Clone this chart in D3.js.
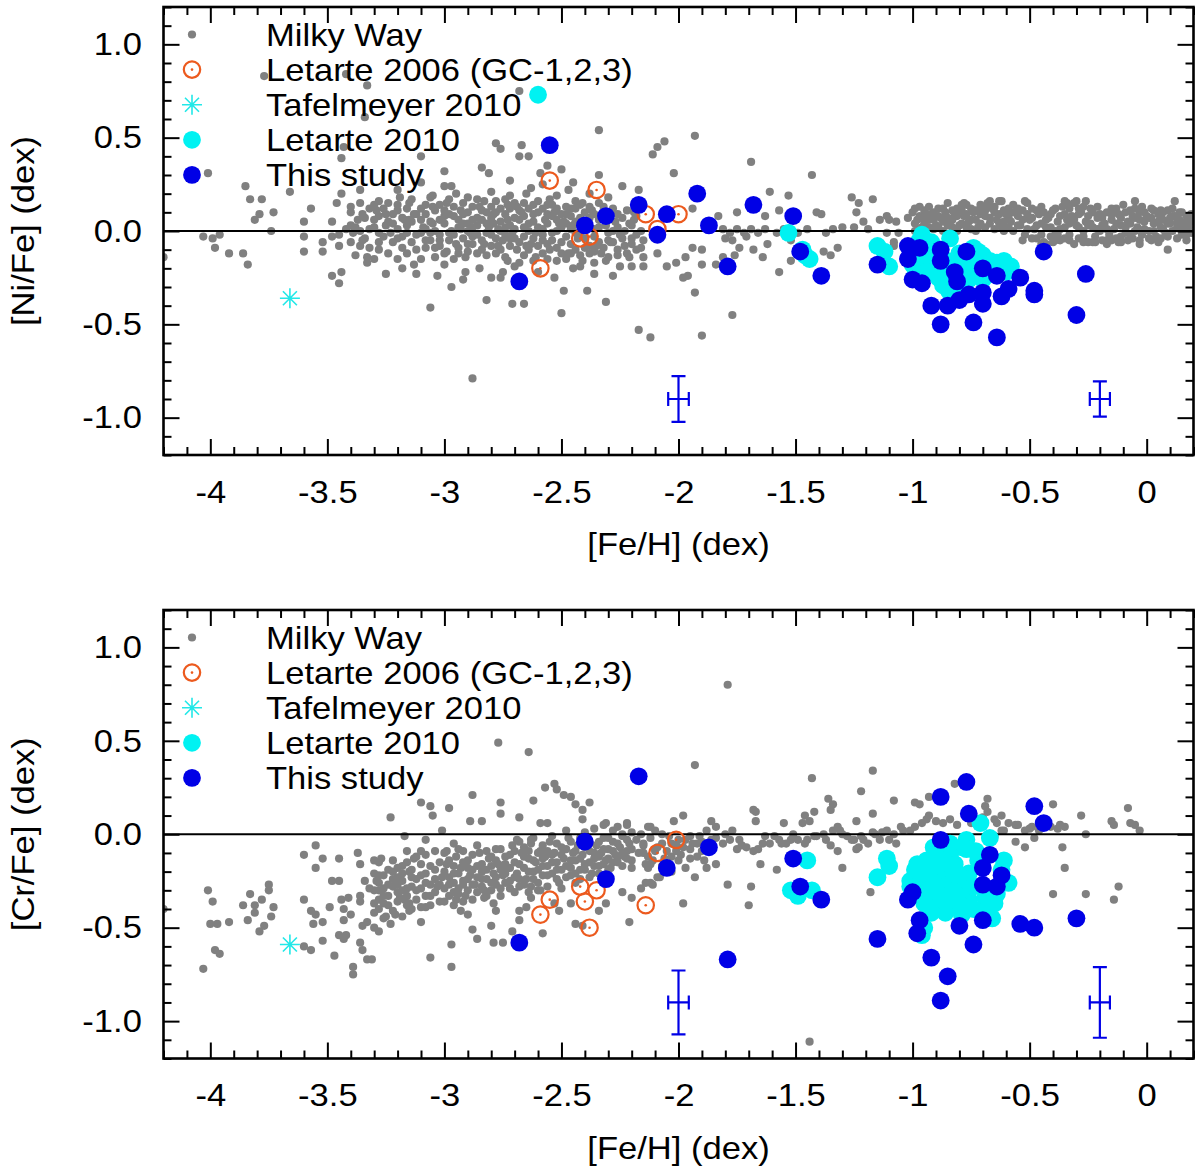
<!DOCTYPE html>
<html><head><meta charset="utf-8">
<script src="https://cdn.jsdelivr.net/npm/d3@7"></script>
<style>body{margin:0;background:#fff}svg{display:block}</style>
</head><body>
<svg id="chart" width="1200" height="1168"></svg>
<script>
// ---------------- DATA ----------------
const xMajorTicks = [-4, -3.5, -3, -2.5, -2, -1.5, -1, -0.5, 0];
const xTickLabels = ["-4", "-3.5", "-3", "-2.5", "-2", "-1.5", "-1", "-0.5", "0"];
const yMajorTicks = [-1, -0.5, 0, 0.5, 1];
const yTickLabels = ["-1.0", "-0.5", "0.0", "0.5", "1.0"];
const legendLabels = ["Milky Way", "Letarte 2006 (GC-1,2,3)", "Tafelmeyer 2010", "Letarte 2010", "This study"];
const xTitle = "[Fe/H] (dex)";
const yTitles = ["[Ni/Fe] (dex)", "[Cr/Fe] (dex)"];

// Milky Way [Fe/H], [Ni/Fe]
const mwNi = [
[-4.20,-0.14],[-4.03,-0.03],[-3.99,-0.04],[-3.96,-0.02],[-3.98,-0.09],[-3.92,-0.12],[-3.86,-0.12],[-3.84,-0.18],[-4.01,0.31],[-3.85,0.24],[-3.83,0.17],[-3.78,0.17],[-3.81,0.06],[-3.79,0.09],[-3.73,0.10],[-3.74,0.00],[-3.66,0.21],[-3.77,0.83],
[-3.60,0.05],[-3.60,-0.03],[-3.60,-0.11],[-3.57,0.12],[-3.52,-0.06],[-3.52,-0.11],[-3.48,0.05],[-3.48,-0.03],[-3.45,-0.08],[-3.46,0.15],[-3.44,0.20],[-3.43,0.45],[-3.44,0.39],[-3.42,0.84],[-3.48,-0.24],[-3.45,-0.28],[-3.44,-0.22],[-3.42,0.01],[-3.40,0.10],[-3.39,-0.01],[-3.37,0.06],[-3.36,0.22],[-3.36,-0.08],[-3.35,0.09],[-3.33,0.78],[-3.34,0.61],[-3.33,-0.14],[-3.33,-0.17],[-3.32,0.01],[-3.30,0.06],[-3.29,0.11],[-3.28,-0.10],[-3.28,-0.01],[-3.25,-0.23],[-3.25,0.09],[-3.23,-0.01],[-3.22,0.04],[-3.20,0.11],[-3.19,0.18],[-3.17,0.06],[-3.16,-0.01],[-3.15,0.15],[-3.13,0.09],[-3.13,-0.18],[-3.12,-0.23],[-3.10,0.40],[-3.10,0.26],[-3.09,0.02],[-3.08,0.09],[-3.06,-0.01],[-3.06,-0.41],[-3.05,0.13],[-3.04,-0.09],[-3.03,-0.24],[-3.02,0.06],[-3.00,0.32],[-3.00,0.24],[-2.99,0.15],[-2.98,-0.01],[-2.97,-0.30],[-2.96,0.08],[-2.95,0.20],[-2.94,-0.12],[-2.93,0.01],[-2.92,0.09],[-2.91,-0.22],[-2.90,-0.07],[-2.89,-0.01],[-2.88,-0.79],[-2.88,0.06],[-2.86,-0.12],[-2.85,0.13],[-2.84,0.34],[-2.83,-0.07],[-2.82,-0.37],[-2.81,0.02],[-2.81,0.31],[-2.80,-0.25],[-2.79,0.09],[-2.78,0.47],[-2.78,-0.12],[-2.77,0.01],[-2.76,-0.25],[-2.76,0.44],[-2.75,-0.05],[-2.74,0.17],[-2.73,-0.16],[-2.73,0.06],[-2.72,0.27],[-2.71,-0.01],[-2.71,-0.39],[-2.70,-0.19],[-2.69,0.13],[-2.68,0.40],[-2.68,0.75],[-2.67,0.46],[-2.66,0.02],[-2.66,-0.39],[-2.65,-0.08],[-2.64,0.40],[-2.63,0.23],[-2.62,0.09],[-2.61,-0.01],[-2.59,0.31],[-2.58,-0.12],[-2.56,0.09],[-2.56,0.35],[-2.55,0.17],[-2.54,-0.05],[-2.52,-0.16],[-2.51,0.04],[-2.50,0.33],[-2.50,-0.44],[-2.49,-0.32],[-2.48,0.09],[-2.47,0.22],[-2.46,-0.12],[-2.44,-0.01],[-2.44,0.16],[-2.42,-0.19],[-2.41,-0.16],[-2.39,-0.32],[-2.38,-0.12],[-2.36,-0.23],[-2.35,-0.08],[-2.34,0.30],[-2.34,0.54],[-2.31,-0.16],[-2.31,-0.38],[-2.30,-0.05],[-2.28,0.00],[-2.26,0.09],[-2.25,-0.19],[-2.24,0.24],[-2.23,0.00],[-2.21,-0.14],[-2.20,-0.19],[-2.19,0.06],[-2.17,0.22],[-2.17,-0.53],[-2.15,-0.05],[-2.12,-0.57],[-2.11,0.41],[-2.09,-0.12],[-2.09,0.45],
[-3.25,0.03],[-3.20,-0.04],[-3.15,0.06],[-3.12,-0.02],[-3.10,0.12],[-3.05,0.04],[-3.02,-0.05],[-3.00,0.08],[-2.97,0.00],[-2.95,-0.07],[-2.93,0.11],[-2.90,0.04],[-2.88,-0.03],[-2.86,0.07],[-2.84,-0.10],[-2.82,0.10],[-2.80,-0.02],[-2.79,0.04],[-2.77,-0.08],[-2.76,0.12],[-2.74,0.02],[-2.72,-0.04],[-2.70,0.07],[-2.69,-0.10],[-2.67,0.10],[-2.66,-0.03],[-2.64,0.04],[-2.63,-0.07],[-2.62,0.14],[-2.60,0.02],[-2.58,-0.05],[-2.57,0.06],[-2.55,-0.10],[-2.53,0.10],[-2.52,0.00],[-2.50,-0.06],[-2.49,0.05],[-2.47,-0.12],[-2.46,0.12],[-2.45,0.03],[-2.43,-0.04],[-2.42,0.07],[-2.40,-0.09],[-2.39,0.02],[-2.37,0.11],[-2.36,-0.03],[-2.34,0.06],[-2.33,-0.12],[-2.31,0.03],[-2.29,-0.06],[-2.27,0.05],[-2.25,-0.02],[-2.23,-0.08],[-2.21,0.04],[-2.20,-0.04],[-2.18,-0.10],[-2.16,0.00],[-3.35,-0.05],[-3.40,0.03],[-3.45,-0.02],[-3.30,0.14],[-3.28,-0.06],[-3.18,-0.09],[-3.08,-0.05],[-2.99,-0.11],[-2.91,-0.14],[-2.83,0.16],[-2.73,0.14],[-2.61,-0.14],[-2.56,0.14],[-2.48,-0.15],[-2.41,0.15],[-2.32,0.13],[-2.26,-0.13],[-2.19,0.10],
[-3.20,0.22],[-3.05,0.19],[-2.97,0.24],[-2.90,0.18],[-2.80,0.21],[-2.72,0.19],[-2.65,0.20],[-2.58,0.25],[-2.52,0.19],[-2.45,0.26],[-2.38,0.20],[-2.30,0.18],[-3.18,-0.20],[-3.00,-0.18],[-2.92,-0.26],[-2.85,-0.20],[-2.75,-0.22],[-2.68,-0.17],[-2.60,-0.22],[-2.53,-0.25],[-2.45,-0.20],[-2.36,-0.17],[-2.28,-0.24],
[-2.06,0.48],[-1.93,0.51],[-2.02,0.31],[-1.69,0.37],[-1.43,0.30],[-1.61,0.21],[-1.53,0.19],[-1.94,0.12],[-1.83,0.08],[-1.75,0.10],[-1.63,0.08],[-1.57,0.11],[-1.41,0.10],[-1.39,0.09],[-1.26,0.18],[-1.24,0.10],[-1.23,0.15],[-1.17,0.17],[-1.30,0.02],[-1.81,0.01],[-1.78,-0.01],[-1.75,0.01],[-1.72,-0.01],[-1.69,0.01],[-1.66,-0.01],[-1.63,0.01],[-1.80,-0.04],[-1.77,-0.05],[-1.71,-0.03],[-1.74,-0.09],[-1.68,-0.10],[-1.62,-0.07],[-2.15,-0.14],[-2.15,-0.19],[-2.05,-0.19],[-2.01,-0.17],[-1.97,-0.14],[-1.94,-0.09],[-1.90,-0.10],[-1.90,-0.18],[-1.84,-0.18],[-1.81,-0.14],[-1.76,-0.13],[-1.64,-0.14],[-1.96,-0.24],[-1.98,-0.25],[-1.93,-0.33],[-1.77,-0.45],[-1.90,-0.56],[-1.57,-0.22],[-1.52,-0.16],[-1.46,-0.15],[-1.38,-0.11],[-1.35,-0.13],[-1.32,-0.09],[-1.25,0.02],[-1.21,0.05],[-1.19,0.01],[-1.14,0.06],[-1.11,0.08],[-1.10,0.06],[-1.07,0.05],[-1.06,-0.01],[-1.11,-0.01],[-1.08,-0.06],[-1.08,-0.08],[-1.58,-0.01],[-1.55,0.01],[-1.52,-0.05],[-1.49,-0.01],[-1.45,0.01],[-1.37,-0.01],[-1.34,0.01],
[-1.02,0.07],[-1.00,0.10],[-0.99,0.04],[-0.97,0.08],[-0.96,0.02],[-0.95,0.11],[-0.93,0.06],[-0.92,0.09],[-0.90,0.03],[-0.89,0.12],[-0.88,0.07],[-0.86,0.10],[-0.85,0.15],[-0.84,0.05],[-0.82,0.09],[-0.81,0.12],[-0.80,0.03],[-0.78,0.08],[-0.77,0.14],[-0.76,0.05],[-0.74,0.10],[-0.73,0.06],[-0.72,0.02],[-0.70,0.12],[-0.69,0.08],[-0.68,0.15],[-0.67,0.04],[-0.65,0.10],[-0.64,0.06],[-0.63,0.16],[-0.62,0.02],[-0.60,0.09],[-0.59,0.12],[-0.58,0.05],[-0.57,0.00],[-0.55,0.08],[-0.54,0.03],[-0.53,0.11],[-0.52,-0.02],[-0.51,0.15],[-0.50,0.06],[-0.48,0.01],[-0.47,-0.04],[-0.46,0.09],[-0.45,0.04],[-0.44,-0.06],[-0.43,0.02],[-0.42,0.07],[-0.41,-0.03],[-0.40,0.11],[-0.39,0.00],[-0.38,0.05],[-0.37,-0.05],[-0.36,0.13],[-0.35,0.02],[-0.34,0.15],[-0.33,-0.02],[-0.32,0.08],[-0.31,0.15],[-0.30,0.03],[-0.29,-0.04],[-0.28,0.10],[-0.27,0.00],[-0.26,0.05],[-0.25,-0.06],[-0.24,0.12],[-0.23,0.02],[-0.22,-0.03],[-0.21,0.07],[-0.20,0.00],[-0.19,-0.05],[-0.18,0.04],[-0.17,0.10],[-0.16,-0.02],[-0.15,0.06],[-0.14,0.01],[-0.13,-0.04],[-0.12,0.09],[-0.11,0.03],[-0.10,0.14],[-0.09,-0.01],[-0.08,0.05],[-0.07,0.11],[-0.06,-0.04],[-0.05,0.07],[-0.04,0.02],[-0.03,0.10],[-0.02,-0.02],[-0.01,0.05],[0.00,0.08],[0.01,0.00],[0.02,0.12],[0.03,0.04],[0.04,-0.03],[0.05,0.09],[0.06,0.02],[0.07,0.06],[0.08,-0.01],[0.09,0.11],[0.10,0.04],[0.11,0.00],[0.12,0.08],[0.13,0.02],[0.14,0.06],[0.15,-0.02],[0.16,0.04],[0.17,0.08],[0.18,0.02],[0.19,0.05],
[-0.98,0.06],[-0.94,0.09],[-0.91,0.01],[-0.87,0.05],[-0.83,0.02],[-0.79,0.11],[-0.75,0.01],[-0.71,0.09],[-0.66,0.12],[-0.61,0.05],[-0.56,0.10],[-0.49,0.12],[-0.44,0.10],[-0.38,-0.02],[-0.34,0.06],[-0.29,0.12],[-0.24,0.04],[-0.20,0.09],[-0.15,0.12],[-0.11,-0.03],[-0.06,0.08],[-0.02,0.13],[0.02,0.07],[0.06,0.11],[0.10,0.07],[0.14,0.10],[0.17,0.00],
[-0.45,-0.07],[-0.40,-0.06],[-0.33,-0.05],[-0.27,-0.06],[-0.22,-0.06],[-0.17,-0.05],[-0.12,-0.06],[-0.08,-0.05],[-0.03,-0.05],[0.02,-0.05],[0.06,-0.04],[0.09,-0.10],[0.17,-0.05],
[-0.78,0.15],[-0.67,0.16],[-0.62,0.16],[-0.52,0.16],[-0.35,0.16],[-0.30,0.16],[-0.26,0.16],[-0.05,0.16],[0.12,0.16]
];
// extra Milky Way [Ni/Fe] stars in the crowded metal-poor clump
const mwNiClump = [
[-3.40,0.13],[-3.40,-0.06],[-3.38,0.02],[-3.38,-0.13],[-3.36,0.15],[-3.36,0.00],[-3.34,-0.04],[-3.34,0.07],[-3.32,0.12],[-3.32,-0.09],[-3.30,0.02],[-3.30,-0.15],[-3.28,0.08],[-3.28,0.16],[-3.26,-0.03],[-3.26,0.12],[-3.24,0.05],[-3.24,-0.12],[-3.24,0.15],[-3.22,-0.06],[-3.22,0.09],[-3.20,0.01],[-3.20,-0.15],[-3.20,0.14],[-3.18,0.07],[-3.18,-0.03],[-3.16,0.12],[-3.16,-0.12],[-3.16,0.03],[-3.14,-0.06],[-3.14,0.05],[-3.14,0.17],[-3.12,0.09],[-3.12,-0.10],[-3.10,-0.01],[-3.10,0.06],[-3.10,-0.15],[-3.08,0.14],[-3.08,0.01],[-3.08,-0.09],[-3.06,0.05],[-3.06,-0.05],[-3.06,0.18],[-3.04,0.11],[-3.04,0.00],[-3.04,-0.14],[-3.02,-0.02],[-3.02,0.14],[-3.02,-0.08],[-3.00,0.04],[-3.00,-0.12],[-3.00,0.11],[-2.98,0.09],[-2.98,-0.05],[-2.98,0.17],[-2.96,-0.02],[-2.96,0.13],[-2.96,-0.15],[-2.94,0.06],[-2.94,0.02],[-2.94,-0.09],[-2.92,-0.04],[-2.92,0.15],[-2.92,0.04],[-2.90,0.10],[-2.90,-0.11],[-2.90,0.00],[-2.88,0.02],[-2.88,-0.07],[-2.88,0.13],[-2.86,0.17],[-2.86,-0.02],[-2.86,0.03],[-2.84,0.06],[-2.84,-0.05],[-2.84,0.11],[-2.82,-0.13],[-2.82,0.04],[-2.82,-0.01],[-2.80,0.13],[-2.80,0.07],[-2.80,-0.08],[-2.78,-0.04],[-2.78,0.10],[-2.78,0.16],[-2.76,0.05],[-2.76,-0.10],[-2.76,0.00],[-2.74,-0.02],[-2.74,0.09],[-2.74,-0.14],[-2.72,0.12],[-2.72,0.03],[-2.72,-0.08],[-2.70,-0.04],[-2.70,0.15],[-2.70,0.01],[-2.68,0.06],[-2.68,-0.06],[-2.68,0.11],[-2.66,-0.13],[-2.66,0.08],[-2.66,0.15],[-2.64,0.00],[-2.64,-0.10],[-2.64,0.12],[-2.62,0.05],[-2.62,-0.04],[-2.62,-0.16],[-2.60,0.10],[-2.60,-0.08],[-2.60,0.16],[-2.58,0.01],[-2.58,0.12],[-2.58,-0.02],[-2.56,-0.07],[-2.56,0.04],[-2.56,-0.15],[-2.54,0.08],[-2.54,0.14],[-2.54,-0.01],[-2.52,-0.09],[-2.52,0.06],[-2.52,0.12],[-2.50,0.02],[-2.50,-0.12],[-2.50,0.09],[-2.48,0.13],[-2.48,-0.03],[-2.48,0.04],[-2.46,-0.07],[-2.46,0.01],[-2.46,0.08],[-2.44,0.05],[-2.44,-0.10],[-2.44,0.12],[-2.42,-0.01],[-2.42,0.14],[-2.42,-0.13],[-2.40,0.04],[-2.40,0.10],[-2.40,-0.04],[-2.38,-0.08],[-2.38,0.07],[-2.38,0.13],[-2.36,0.01],[-2.36,-0.11],[-2.36,0.09],[-2.34,-0.06],[-2.34,0.02],[-2.34,0.15],[-2.32,0.09],[-2.32,-0.09],[-2.30,0.06],[-2.30,-0.01],[-2.30,-0.14],[-2.28,0.12],[-2.28,-0.06],[-2.26,0.02],[-2.26,-0.10],[-2.24,0.07],[-2.24,-0.04],[-2.22,-0.12],[-2.22,0.11],[-2.20,0.03],[-2.20,-0.07],[-2.18,0.08],[-2.18,-0.02],[-2.16,0.12],[-2.16,-0.09]
];
// extra Milky Way [Ni/Fe] stars in the crowded metal-rich sequence
const mwNiDisk = [
[-0.99,0.00],[-0.99,0.12],[-0.97,0.01],[-0.97,0.13],[-0.95,0.04],[-0.95,0.07],[-0.93,0.02],[-0.93,0.13],[-0.91,0.06],[-0.91,0.10],[-0.89,0.02],[-0.89,0.08],[-0.87,0.12],[-0.87,0.00],[-0.85,0.07],[-0.85,0.03],[-0.83,0.11],[-0.83,0.06],[-0.81,0.00],[-0.81,0.08],[-0.79,0.04],[-0.79,0.14],[-0.77,0.02],[-0.77,0.09],[-0.75,0.12],[-0.75,0.06],[-0.73,0.00],[-0.73,0.11],[-0.71,0.04],[-0.71,0.14],[-0.69,0.02],[-0.69,0.11],[-0.67,0.07],[-0.67,0.13],[-0.65,0.01],[-0.65,0.13],[-0.63,0.04],[-0.63,0.09],[-0.61,0.11],[-0.61,0.00],[-0.59,0.07],[-0.59,0.02],[-0.57,0.10],[-0.57,0.14],[-0.55,0.03],[-0.55,0.12],[-0.53,0.06],[-0.53,-0.05],[-0.51,0.01],[-0.51,0.09],[-0.49,-0.04],[-0.49,0.07],[-0.47,0.11],[-0.47,0.03],[-0.45,-0.02],[-0.45,0.13],[-0.43,0.06],[-0.43,-0.07],[-0.41,0.09],[-0.41,0.02],[-0.39,-0.05],[-0.39,0.12],[-0.37,0.08],[-0.37,0.01],[-0.35,-0.04],[-0.35,0.09],[-0.33,0.04],[-0.33,0.12],[-0.31,-0.07],[-0.31,0.06],[-0.29,0.02],[-0.29,0.09],[-0.27,-0.03],[-0.27,0.13],[-0.25,0.08],[-0.25,0.03],[-0.23,-0.06],[-0.23,0.10],[-0.21,0.01],[-0.21,0.13],[-0.19,0.07],[-0.19,0.03],[-0.17,-0.07],[-0.17,0.01],[-0.15,0.09],[-0.15,-0.05],[-0.13,0.04],[-0.13,0.12],[-0.11,0.07],[-0.11,-0.06],[-0.09,0.02],[-0.09,0.10],[-0.07,-0.02],[-0.07,0.04],[-0.05,0.12],[-0.05,0.00],[-0.03,0.06],[-0.03,-0.07],[-0.01,0.10],[-0.01,0.01],[0.01,-0.04],[0.01,0.07],[0.03,0.11],[0.03,0.00],[0.05,0.05],[0.05,-0.06],[0.07,0.10],[0.07,0.01],[0.09,0.04],[0.09,-0.03],[0.11,0.08],[0.11,0.12],[0.13,-0.04],[0.13,0.05],[0.15,0.10],[0.15,0.02],[0.17,0.05],[0.17,-0.02],[0.19,0.09],[0.19,-0.01]
];

// Milky Way [Fe/H], [Cr/Fe]
const mwCr = [
[-4.20,-0.40],[-4.01,-0.30],[-3.99,-0.36],[-4.03,-0.72],[-4.00,-0.48],[-3.97,-0.48],[-3.98,-0.62],[-3.96,-0.64],[-3.92,-0.47],[-3.86,-0.38],[-3.84,-0.46],[-3.83,-0.32],[-3.81,-0.38],[-3.81,-0.42],[-3.79,-0.52],[-3.77,-0.49],[-3.78,-0.35],[-3.75,-0.27],[-3.75,-0.30],[-3.73,-0.39],[-3.74,-0.44],
[-3.60,-0.35],[-3.60,-0.60],[-3.57,-0.62],[-3.60,-0.11],[-3.55,-0.06],[-3.55,-0.18],[-3.57,-0.41],[-3.55,-0.43],[-3.52,-0.47],[-3.56,-0.48],[-3.52,-0.13],[-3.52,-0.57],[-3.49,-0.39],[-3.48,-0.25],[-3.45,-0.25],[-3.47,-0.65],[-3.45,-0.13],[-3.44,-0.35],[-3.43,-0.40],[-3.43,-0.46],[-3.42,-0.54],[-3.45,-0.54],[-3.43,-0.56],[-3.41,-0.34],[-3.40,-0.43],[-3.39,-0.71],[-3.39,-0.75],[-3.37,-0.10],[-3.36,-0.16],[-3.36,-0.33],[-3.36,-0.36],[-3.36,-0.58],[-3.35,-0.62],[-3.33,-0.67],[-3.31,-0.67],[-3.35,-0.49],[-3.33,-0.47],[-3.30,-0.50],[-3.28,-0.52],[-3.34,-0.25],[-3.32,-0.29],[-3.29,-0.25],[-3.28,-0.30],[-3.30,-0.37],[-3.28,-0.40],[-3.26,-0.37],[-3.25,-0.44],[-3.30,-0.14],[-3.27,-0.13],[-3.23,0.09],[-3.23,-0.48],[-3.21,-0.43],[-3.19,-0.34],[-3.22,-0.28],[-3.20,-0.23],[-3.18,-0.17],[-3.15,-0.20],[-3.17,-0.01],[-3.16,-0.09],[-3.13,-0.13],[-3.10,-0.09],[-3.17,-0.35],[-3.15,-0.41],[-3.10,-0.47],[-3.08,-0.39],[-3.10,0.17],[-3.06,0.15],[-3.05,0.10],[-3.08,-0.03],[-3.06,-0.66],[-2.97,-0.59],[-2.97,-0.71],[-2.98,0.14],[-3.01,0.02],[-2.99,-0.09],[-2.96,-0.05],[-2.88,0.21],[-2.84,0.07],[-2.89,0.07],[-2.92,-0.09],[-2.88,-0.51],[-2.86,-0.56],[-2.80,-0.49],[-2.79,-0.58],[-2.75,-0.58],[-2.71,-0.52],[-2.68,-0.46],[-2.77,0.49],[-2.64,0.44],[-2.76,0.17],[-2.76,0.11],[-2.68,0.09],[-2.62,0.18],[-2.57,0.25],[-2.53,0.27],[-2.52,0.24],[-2.49,0.21],[-2.46,0.20],[-2.44,0.16],[-2.38,0.17],[-2.41,0.13],[-2.41,0.08],[-2.31,0.06],[-2.69,-0.03],[-2.63,-0.03],[-2.59,0.06],[-2.56,0.06],[-2.22,0.06],[-2.16,0.00],[-2.12,0.04],[-2.58,-0.53],[-2.44,-0.48],[-2.41,-0.49],[-2.21,-0.47],[-2.63,-0.28],[-2.59,-0.30],[-2.63,-0.34],[-2.51,-0.41],[-2.46,-0.37],[-2.53,-0.37],[-2.24,-0.31],[-2.20,-0.34],[-2.16,-0.29],[-2.12,-0.26],[-2.09,-0.23],[-2.34,-0.41],[-2.31,-0.37],[-2.96,-0.31],[-2.95,-0.35],[-2.93,-0.41],[-2.90,-0.43],[-2.88,-0.35],[-2.79,-0.37],[-2.78,-0.41],[-2.83,-0.34],[-2.68,-0.41],[-2.65,-0.39],
[-3.12,-0.30],[-3.10,-0.22],[-3.08,-0.26],[-3.06,-0.33],[-3.04,-0.19],[-3.03,-0.28],[-3.01,-0.23],[-3.00,-0.36],[-2.99,-0.16],[-2.98,-0.27],[-2.96,-0.21],[-2.95,-0.12],[-2.94,-0.29],[-2.93,-0.18],[-2.92,-0.25],[-2.91,-0.33],[-2.90,-0.14],[-2.89,-0.22],[-2.87,-0.27],[-2.86,-0.17],[-2.85,-0.10],[-2.84,-0.24],[-2.83,-0.30],[-2.82,-0.19],[-2.81,-0.13],[-2.80,-0.26],[-2.79,-0.21],[-2.78,-0.08],[-2.77,-0.16],[-2.76,-0.29],[-2.75,-0.22],[-2.74,-0.12],[-2.73,-0.18],[-2.72,-0.25],[-2.71,-0.06],[-2.70,-0.15],[-2.69,-0.21],[-2.68,-0.28],[-2.67,-0.10],[-2.66,-0.18],[-2.65,-0.24],[-2.64,-0.13],[-2.63,-0.05],[-2.62,-0.20],[-2.61,-0.15],[-2.60,-0.26],[-2.59,-0.09],[-2.58,-0.17],[-2.57,-0.12],[-2.56,-0.22],[-2.55,-0.04],[-2.54,-0.15],[-2.53,-0.10],[-2.52,-0.19],[-2.51,-0.26],[-2.50,-0.07],[-2.49,-0.13],[-2.48,-0.17],[-2.47,-0.02],[-2.46,-0.22],[-2.45,-0.10],[-2.44,-0.14],[-2.43,-0.06],[-2.42,-0.19],[-2.41,-0.11],[-2.40,-0.16],[-2.39,-0.03],[-2.38,-0.09],[-2.37,-0.21],[-2.36,-0.13],[-2.35,-0.06],[-2.34,-0.17],[-2.33,-0.10],[-2.32,-0.02],[-2.31,-0.14],[-2.30,-0.08],[-2.29,-0.18],[-2.28,-0.04],[-2.27,-0.11],[-2.26,-0.15],[-2.25,-0.07],[-2.24,-0.01],[-2.23,-0.12],[-2.22,-0.09],[-2.21,-0.05],[-2.20,-0.14],[-2.18,-0.03],[-2.17,-0.10],[-2.15,-0.06],[-2.14,-0.16],[-2.12,-0.02],[-2.10,-0.08],[-3.28,-0.22],[-3.26,-0.33],[-3.24,-0.27],[-3.22,-0.20],[-3.20,-0.31],[-3.18,-0.25],[-3.16,-0.29],[-3.14,-0.23],[-3.15,-0.37],
[-1.93,0.37],[-1.79,0.80],[-1.43,0.30],[-1.17,0.34],[-1.22,0.23],[-1.08,0.18],[-1.36,0.19],[-1.34,0.16],[-1.35,0.13],[-1.68,0.13],[-1.67,0.12],[-1.67,0.07],[-1.98,0.10],[-2.02,0.07],[-1.86,0.07],[-1.84,0.04],[-1.46,0.10],[-1.42,0.12],[-1.47,0.06],[-1.44,0.07],[-1.55,0.06],[-1.24,0.07],[-1.17,0.11],[-0.99,0.17],[-0.97,0.16],[-0.93,0.20],[-0.82,0.27],[-0.68,0.19],[-0.69,0.15],[-0.40,0.16],[-0.28,0.10],[-0.08,0.14],[-0.15,0.07],[-0.14,0.05],[-0.07,0.06],[-0.05,0.05],[-0.03,0.02],[-0.26,0.00],[-0.36,-0.07],[-0.35,-0.18],[-0.40,-0.32],[-0.26,-0.32],[-0.12,-0.28],[-0.14,-0.35],[-0.56,-0.04],[-0.52,-0.07],[-0.48,-0.02],[-0.56,0.05],[-0.50,0.03],[-0.38,0.03],[-0.35,0.04],[-0.64,0.06],[-0.62,0.10],[-0.59,0.06],[-0.62,0.02],[-0.65,-0.01],[-1.30,-0.18],[-1.18,-0.31],[-1.32,-0.09],[-1.35,-0.06],[-1.58,-0.19],[-1.65,-0.16],[-1.69,-0.28],[-1.70,-0.38],[-1.79,-0.27],[-1.98,-0.37],[-1.93,-0.23],[-2.11,-0.27],[-2.14,-0.26],[-2.08,-0.23],[-1.44,-1.11],[-1.89,-0.14],[-1.88,-0.18],[-1.84,-0.16],[-1.95,-0.13],[-2.03,-0.12],[-2.00,-0.14],
[-2.13,0.04],[-2.10,0.02],[-2.07,0.00],[-2.04,-0.01],[-1.97,-0.03],[-1.94,-0.05],[-1.91,-0.01],[-1.86,-0.03],[-1.81,-0.05],[-1.80,0.00],[-1.77,0.02],[-1.74,-0.03],[-1.71,-0.07],[-1.68,-0.09],[-1.63,-0.01],[-1.61,-0.05],[-1.57,-0.03],[-1.54,-0.05],[-1.51,0.00],[-1.49,-0.03],[-1.46,-0.05],[-1.42,-0.01],[-1.38,0.00],[-1.34,0.02],[-1.32,0.04],[-1.30,0.00],[-1.26,-0.03],[-1.24,-0.08],[-1.22,-0.01],[-1.19,-0.05],[-1.16,0.00],[-1.13,0.01],[-1.10,-0.03],[-1.07,-0.05],[-1.04,0.02],[-1.01,0.02],[-0.99,0.04],[-0.96,0.06],[-0.94,0.08],
[-2.15,-0.05],[-2.13,-0.12],[-2.12,-0.16],[-2.10,-0.09],[-2.07,-0.05],[-2.06,-0.13],[-2.03,-0.05],[-2.01,-0.09],[-2.00,-0.03],[-1.98,-0.07],[-1.95,-0.01],[-1.92,-0.05],[-1.90,-0.09],[-1.88,0.02],[-1.84,-0.02],[-1.78,-0.03],[-1.75,-0.08],[-1.73,-0.06],[-1.66,-0.08],[-1.64,-0.05],[-1.59,-0.01],[-1.56,-0.05],[-1.52,-0.03],[-1.45,-0.03],[-1.41,-0.01],[-1.37,-0.03],[-1.31,0.02],[-1.28,-0.01],[-1.25,-0.03],[-1.23,-0.07],[-1.21,-0.03],[-1.17,0.01],[-1.14,-0.03],[-1.11,0.02],[-1.08,0.00],[-1.05,0.04],[-0.93,0.10],[-0.90,0.07],[-0.87,0.06],[-0.84,0.08],[-0.81,0.05],[-0.75,0.06],[-0.70,0.09],[-0.68,0.12],[-0.65,0.08],[-0.61,0.02],[-0.55,0.05],[-0.52,0.02],[-0.49,0.04],[-0.46,0.02],[-0.41,0.04],[-0.37,0.05],
[-2.15,-0.10],[-2.13,-0.18],[-2.11,-0.14],[-2.09,-0.07],[-2.07,-0.17],[-2.05,-0.09],[-2.03,-0.20],[-2.01,-0.06],[-1.99,-0.11],[-1.97,-0.18],[-1.95,-0.08],[-1.92,-0.12],[-1.90,-0.04]
];
// extra Milky Way [Cr/Fe] stars in the crowded metal-poor clump
const mwCrClump = [
[-3.30,-0.42],[-3.30,-0.21],[-3.30,-0.30],[-3.28,-0.35],[-3.28,-0.15],[-3.28,-0.26],[-3.26,-0.45],[-3.26,-0.22],[-3.26,-0.29],[-3.24,-0.38],[-3.24,-0.19],[-3.24,-0.33],[-3.22,-0.41],[-3.22,-0.14],[-3.22,-0.24],[-3.20,-0.36],[-3.20,-0.27],[-3.20,-0.18],[-3.18,-0.44],[-3.18,-0.30],[-3.18,-0.21],[-3.16,-0.33],[-3.16,-0.15],[-3.16,-0.38],[-3.14,-0.28],[-3.14,-0.40],[-3.14,-0.19],[-3.12,-0.35],[-3.12,-0.12],[-3.12,-0.24],[-3.10,-0.29],[-3.10,-0.39],[-3.10,-0.16],[-3.08,-0.21],[-3.08,-0.33],[-3.08,-0.11],[-3.06,-0.27],[-3.06,-0.17],[-3.06,-0.38],[-3.04,-0.31],[-3.04,-0.24],[-3.04,-0.09],[-3.02,-0.36],[-3.02,-0.15],[-3.02,-0.27],[-3.00,-0.20],[-3.00,-0.29],[-3.00,-0.10],[-2.98,-0.33],[-2.98,-0.23],[-2.98,-0.14],[-2.96,-0.26],[-2.96,-0.38],[-2.96,-0.17],[-2.94,-0.21],[-2.94,-0.08],[-2.94,-0.32],[-2.92,-0.15],[-2.92,-0.27],[-2.92,-0.36],[-2.90,-0.24],[-2.90,-0.18],[-2.90,-0.30],[-2.88,-0.11],[-2.88,-0.27],[-2.88,-0.19],[-2.86,-0.23],[-2.86,-0.31],[-2.86,-0.06],[-2.84,-0.16],[-2.84,-0.20],[-2.84,-0.28],[-2.82,-0.09],[-2.82,-0.24],[-2.82,-0.33],[-2.80,-0.17],[-2.80,-0.30],[-2.80,-0.12],[-2.78,-0.23],[-2.78,-0.14],[-2.78,-0.27],[-2.76,-0.19],[-2.76,-0.08],[-2.76,-0.33],[-2.74,-0.26],[-2.74,-0.16],[-2.74,-0.21],[-2.72,-0.11],[-2.72,-0.29],[-2.72,-0.18],[-2.70,-0.23],[-2.70,-0.09],[-2.70,-0.31],[-2.68,-0.16],[-2.68,-0.04],[-2.68,-0.24],[-2.66,-0.12],[-2.66,-0.27],[-2.66,-0.07],[-2.64,-0.20],[-2.64,-0.31],[-2.64,-0.09],[-2.62,-0.14],[-2.62,-0.24],[-2.62,-0.02],[-2.60,-0.10],[-2.60,-0.19],[-2.60,-0.30],[-2.58,-0.22],[-2.58,-0.06],[-2.58,-0.13],[-2.56,-0.17],[-2.56,-0.28],[-2.56,-0.09],[-2.54,-0.11],[-2.54,-0.21],[-2.54,-0.01],[-2.52,-0.15],[-2.52,-0.05],[-2.52,-0.24],[-2.50,-0.19],[-2.50,-0.11],[-2.50,-0.29],[-2.48,-0.08],[-2.48,-0.23],[-2.48,0.02],[-2.46,-0.14],[-2.46,-0.04],[-2.46,-0.18],[-2.44,-0.21],[-2.44,-0.09],[-2.44,-0.26],[-2.42,-0.13],[-2.42,-0.02],[-2.42,-0.24],[-2.40,-0.07],[-2.40,-0.19],[-2.40,0.01],[-2.38,-0.15],[-2.38,-0.23],[-2.38,-0.05],[-2.36,-0.10],[-2.36,-0.17],[-2.36,0.03],[-2.34,-0.04],[-2.34,-0.21],[-2.34,-0.12],[-2.32,-0.08],[-2.32,-0.16],[-2.32,0.05],[-2.30,-0.13],[-2.30,-0.02],[-2.30,-0.19],[-2.28,-0.09],[-2.28,0.02],[-2.28,-0.15],[-2.26,-0.05],[-2.26,-0.12],[-2.26,0.04],[-2.24,-0.10],[-2.24,-0.17],[-2.24,0.00],[-2.22,-0.03],[-2.22,-0.13],[-2.22,0.05],[-2.20,-0.08],[-2.20,0.01],[-2.20,-0.18]
];

// Letarte 2006 (GC-1,2,3)
const let06Ni = [[-2.55,0.27],[-2.35,0.22],[-2.59,-0.20],[-2.42,-0.04],[-2.38,-0.03],[-2.14,0.09],[-2.00,0.09],[-2.09,0.01]];
const let06Cr = [[-2.55,-0.35],[-2.59,-0.43],[-2.42,-0.28],[-2.35,-0.30],[-2.40,-0.36],[-2.38,-0.50],[-2.14,-0.38],[-2.09,-0.10],[-2.01,-0.03]];
// Tafelmeyer 2010
const tafNi = [[-3.66,-0.36]];
const tafCr = [[-3.66,-0.59]];
// Letarte 2010
const let10Ni = [
[-2.60,0.73],[-1.53,-0.01],[-1.46,-0.13],[-1.44,-0.15],[-1.47,-0.10],[-1.15,-0.08],[-1.12,-0.11],[-1.10,-0.19],
[-0.96,-0.02],[-0.84,-0.04],[-0.98,-0.09],[-0.95,-0.13],[-0.93,-0.17],[-0.91,-0.21],[-0.89,-0.25],[-0.87,-0.29],[-0.85,-0.31],[-0.82,-0.27],[-0.79,-0.22],[-0.76,-0.18],[-0.73,-0.15],[-0.70,-0.13],[-0.67,-0.16],[-0.64,-0.17],[-0.61,-0.16],[-0.58,-0.19],[-0.66,-0.23],[-0.70,-0.26],[-0.80,-0.12],[-0.88,-0.10],[-0.92,-0.06],[-0.85,-0.16],[-1.00,-0.18],[-0.99,-0.24],[-0.83,-0.21],[-0.76,-0.26],[-0.74,-0.09],
[-0.97,-0.05],[-0.94,-0.07],[-0.90,-0.12],[-0.86,-0.22],[-0.83,-0.25],[-0.80,-0.17],[-0.78,-0.28],[-0.75,-0.21],[-0.72,-0.20],[-0.69,-0.17],[-0.66,-0.19],[-0.63,-0.21],[-0.60,-0.22],[-0.88,-0.19],[-0.91,-0.14],[-0.81,-0.31],[-0.86,-0.27],[-0.77,-0.14],[-0.72,-0.11],[-0.96,-0.20],[-0.94,-0.22],[-0.84,-0.33]
];
const let10Cr = [
[-1.45,-0.14],[-1.52,-0.30],[-1.49,-0.33],[-1.43,-0.30],[-1.11,-0.13],[-1.10,-0.17],[-1.15,-0.23],
[-0.71,0.06],[-0.67,-0.02],[-0.77,-0.03],[-0.79,-0.07],[-0.73,-0.09],[-0.91,-0.07],[-0.94,-0.14],[-0.98,-0.16],[-0.99,-0.23],[-1.01,-0.28],[-0.96,-0.34],[-0.91,-0.37],[-0.88,-0.39],[-0.85,-0.34],[-0.82,-0.23],[-0.87,-0.19],[-0.90,-0.28],[-0.93,-0.23],[-0.79,-0.32],[-0.76,-0.35],[-0.82,-0.16],[-0.76,-0.21],[-0.61,-0.14],[-0.59,-0.26],[-0.64,-0.32],[-0.69,-0.34],[-0.79,-0.43],[-0.66,-0.45],[-0.96,-0.54],[-1.01,-0.25],[-0.88,-0.09],[-0.84,-0.11],
[-0.97,-0.20],[-0.95,-0.27],[-0.93,-0.31],[-0.91,-0.18],[-0.89,-0.13],[-0.87,-0.25],[-0.85,-0.29],[-0.84,-0.38],[-0.83,-0.20],[-0.80,-0.27],[-0.78,-0.24],[-0.80,-0.37],[-0.86,-0.42],[-0.92,-0.42],[-0.95,-0.37],[-0.97,-0.30],[-0.99,-0.19],[-0.84,-0.05],[-0.86,-0.15],[-0.91,-0.26],[-0.88,-0.33],[-0.82,-0.31],[-0.74,-0.28],[-0.72,-0.14],[-0.62,-0.19],[-0.65,-0.37],[-0.69,-0.42],[-0.95,-0.50],[-0.74,-0.40],[-0.77,-0.08]
];
// This study
const thisNi = [
[-2.55,0.46],[-2.68,-0.27],[-2.40,0.03],[-2.31,0.08],[-2.17,0.14],[-2.09,-0.02],
[-2.05,0.09],[-1.92,0.20],[-1.87,0.03],[-1.79,-0.19],[-1.68,0.14],[-1.51,0.08],[-1.48,-0.11],[-1.39,-0.24],[-1.15,-0.18],
[-1.02,-0.08],[-0.97,-0.09],[-1.02,-0.15],[-0.88,-0.10],[-0.88,-0.16],[-0.77,-0.11],[-1.00,-0.26],[-0.96,-0.28],[-0.82,-0.22],[-0.81,-0.27],[-0.70,-0.20],[-0.64,-0.24],[-0.54,-0.25],[-0.59,-0.31],[-0.62,-0.35],[-0.70,-0.33],[-0.70,-0.39],[-0.76,-0.34],[-0.80,-0.37],[-0.85,-0.40],[-0.92,-0.40],[-0.88,-0.50],[-0.74,-0.49],[-0.64,-0.57],[-0.48,-0.32],[-0.48,-0.34],[-0.44,-0.11],[-0.26,-0.23],[-0.30,-0.45]
];
const thisCr = [
[-2.17,0.31],[-2.40,-0.04],[-2.31,-0.24],[-2.68,-0.58],
[-2.05,-0.18],[-1.87,-0.07],[-1.79,-0.67],[-1.51,-0.13],[-1.48,-0.28],[-1.39,-0.35],[-1.15,-0.56],
[-0.88,0.20],[-0.77,0.28],[-0.76,0.11],[-0.88,-0.03],[-0.67,-0.11],[-0.70,-0.18],[-0.62,-0.22],[-0.70,-0.27],[-0.64,-0.28],[-1.00,-0.31],[-1.02,-0.35],[-0.97,-0.46],[-0.98,-0.53],[-0.80,-0.49],[-0.70,-0.46],[-0.54,-0.48],[-0.48,-0.50],[-0.74,-0.59],[-0.92,-0.66],[-0.85,-0.76],[-0.88,-0.89],[-0.48,0.15],[-0.44,0.06],[-0.30,-0.45]
];
// error bars: [Fe/H], y, x-error, y-error
const errNi = [[-2.0,-0.90,0.044,0.123],[-0.20,-0.90,0.043,0.094]];
const errCr = [[-2.0,-0.90,0.044,0.171],[-0.20,-0.90,0.043,0.189]];

// ---------------- DRAWING ----------------
const COL = {mw:"#808080", l06:"#ec5a1e", taf:"#22e8e8", l10:"#00f2f2", ts:"#0000e6", err:"#0000e6"};
const FONT = "'Liberation Sans', Arial, Helvetica, sans-serif";
const FS = 32, SX = 1.08;
const left = 163.5, right = 1193.5;
const svg = d3.select("#chart");
const x = d3.scaleLinear().domain([-4.2, 0.2]).range([left, right]);
const xMinor = d3.range(-42, 3).map(d => d / 10).filter(v => Math.abs(v * 2 - Math.round(v * 2)) > 1e-6);
const yMinor = d3.range(-12, 13).map(d => d / 10).filter(v => Math.abs(v * 2 - Math.round(v * 2)) > 1e-6);

const panels = [
  {top: 7, bottom: 455, title: yTitles[0], mw: mwNi.concat(mwNiClump, mwNiDisk), l06: let06Ni, taf: tafNi, l10: let10Ni, ts: thisNi, err: errNi},
  {top: 610, bottom: 1058.5, title: yTitles[1], mw: mwCr.concat(mwCrClump), l06: let06Cr, taf: tafCr, l10: let10Cr, ts: thisCr, err: errCr}
];

const star = "M-10,0H10M0,-10V10M-7,-7L7,7M-7,7L7,-7";

function styleAxis(g) {
  g.select(".domain").remove();
  g.selectAll("line").attr("stroke", "#000").attr("stroke-width", 2);
  g.attr("font-family", FONT).attr("font-size", FS);
  g.selectAll("text").attr("fill", "#000").attr("transform", `scale(${SX},1)`);
}

panels.forEach(p => {
  const y = d3.scaleLinear().domain([-1.2, 1.2]).range([p.bottom, p.top]);
  const g = svg.append("g");
  const clipId = "clip" + p.top;
  svg.append("clipPath").attr("id", clipId).append("rect")
    .attr("x", left).attr("y", p.top).attr("width", right - left).attr("height", p.bottom - p.top);
  const plot = g.append("g").attr("clip-path", `url(#${clipId})`);

  plot.append("g").selectAll("circle").data(p.mw).join("circle")
    .attr("cx", d => x(d[0])).attr("cy", d => y(d[1])).attr("r", 4.1).attr("fill", COL.mw);
  plot.append("line").attr("x1", x(-4.2)).attr("x2", x(0.2)).attr("y1", y(0)).attr("y2", y(0))
    .attr("stroke", "#000").attr("stroke-width", 2);
  const o = plot.append("g").selectAll("g").data(p.l06).join("g")
    .attr("transform", d => `translate(${x(d[0])},${y(d[1])})`);
  o.append("circle").attr("r", 8.2).attr("fill", "none").attr("stroke", COL.l06).attr("stroke-width", 2.2);
  o.append("circle").attr("r", 1.3).attr("fill", COL.l06);
  plot.append("g").selectAll("path").data(p.taf).join("path")
    .attr("d", star).attr("transform", d => `translate(${x(d[0])},${y(d[1])})`)
    .attr("stroke", COL.taf).attr("stroke-width", 1.6).attr("fill", "none");
  plot.append("g").selectAll("circle").data(p.l10).join("circle")
    .attr("cx", d => x(d[0])).attr("cy", d => y(d[1])).attr("r", 8.9).attr("fill", COL.l10);
  plot.append("g").selectAll("circle").data(p.ts).join("circle")
    .attr("cx", d => x(d[0])).attr("cy", d => y(d[1])).attr("r", 8.9).attr("fill", COL.ts);
  const e = plot.append("g").attr("stroke", COL.err).attr("stroke-width", 2.2).attr("fill", "none");
  p.err.forEach(d => {
    const cx = x(d[0]), cy = y(d[1]);
    const x0 = x(d[0] - d[2]), x1 = x(d[0] + d[2]);
    const y0 = y(d[1] + d[3]), y1 = y(d[1] - d[3]);
    e.append("path").attr("d",
      `M${cx},${y0}V${y1}M${cx - 7},${y0}H${cx + 7}M${cx - 7},${y1}H${cx + 7}` +
      `M${x0},${cy}H${x1}M${x0},${cy - 7}V${cy + 7}M${x1},${cy - 7}V${cy + 7}`);
  });

  g.append("g").attr("transform", `translate(0,${p.bottom})`)
    .call(d3.axisBottom(x).tickValues(xMajorTicks).tickSize(-16).tickPadding(25).tickFormat((d, i) => xTickLabels[i]))
    .call(styleAxis);
  g.append("g").attr("transform", `translate(0,${p.bottom})`)
    .call(d3.axisBottom(x).tickValues(xMinor).tickSize(-8).tickFormat("")).call(styleAxis);
  g.append("g").attr("transform", `translate(0,${p.top})`)
    .call(d3.axisTop(x).tickValues(xMajorTicks).tickSize(-16).tickFormat("")).call(styleAxis);
  g.append("g").attr("transform", `translate(0,${p.top})`)
    .call(d3.axisTop(x).tickValues(xMinor).tickSize(-8).tickFormat("")).call(styleAxis);
  g.append("g").attr("transform", `translate(${left},0)`)
    .call(d3.axisLeft(y).tickValues(yMajorTicks).tickSize(-16).tickPadding(20).tickFormat((d, i) => yTickLabels[i]))
    .call(styleAxis);
  g.append("g").attr("transform", `translate(${left},0)`)
    .call(d3.axisLeft(y).tickValues(yMinor).tickSize(-8).tickFormat("")).call(styleAxis);
  g.append("g").attr("transform", `translate(${right},0)`)
    .call(d3.axisRight(y).tickValues(yMajorTicks).tickSize(-16).tickFormat("")).call(styleAxis);
  g.append("g").attr("transform", `translate(${right},0)`)
    .call(d3.axisRight(y).tickValues(yMinor).tickSize(-8).tickFormat("")).call(styleAxis);

  g.append("rect").attr("x", left).attr("y", p.top).attr("width", right - left).attr("height", p.bottom - p.top)
    .attr("fill", "none").attr("stroke", "#000").attr("stroke-width", 2.6);

  g.append("text").attr("transform", `translate(${(left + right) / 2},${p.bottom + 100}) scale(${SX},1)`)
    .attr("text-anchor", "middle").attr("font-family", FONT).attr("font-size", FS).text(xTitle);
  g.append("text").attr("transform", `translate(34,${(p.top + p.bottom) / 2}) rotate(-90) scale(${SX},1)`)
    .attr("text-anchor", "middle").attr("font-family", FONT).attr("font-size", FS).text(p.title);

  const lg = g.append("g");
  const rows = [0, 1, 2, 3, 4];
  const ly = i => p.top + 27.5 + i * 35.1;
  const lx = 192;
  lg.append("circle").attr("cx", lx).attr("cy", ly(0)).attr("r", 4.1).attr("fill", COL.mw);
  lg.append("circle").attr("cx", lx).attr("cy", ly(1)).attr("r", 8.2).attr("fill", "none").attr("stroke", COL.l06).attr("stroke-width", 2.2);
  lg.append("circle").attr("cx", lx).attr("cy", ly(1)).attr("r", 1.3).attr("fill", COL.l06);
  lg.append("path").attr("d", star).attr("transform", `translate(${lx},${ly(2)})`).attr("stroke", COL.taf).attr("stroke-width", 1.6);
  lg.append("circle").attr("cx", lx).attr("cy", ly(3)).attr("r", 8.9).attr("fill", COL.l10);
  lg.append("circle").attr("cx", lx).attr("cy", ly(4)).attr("r", 8.9).attr("fill", COL.ts);
  lg.selectAll("text").data(rows).join("text")
    .attr("transform", i => `translate(266,${ly(i) + 11.5}) scale(${SX},1)`)
    .attr("font-family", FONT).attr("font-size", FS).attr("fill", "#000")
    .text(i => legendLabels[i]);
});
</script>
</body></html>
